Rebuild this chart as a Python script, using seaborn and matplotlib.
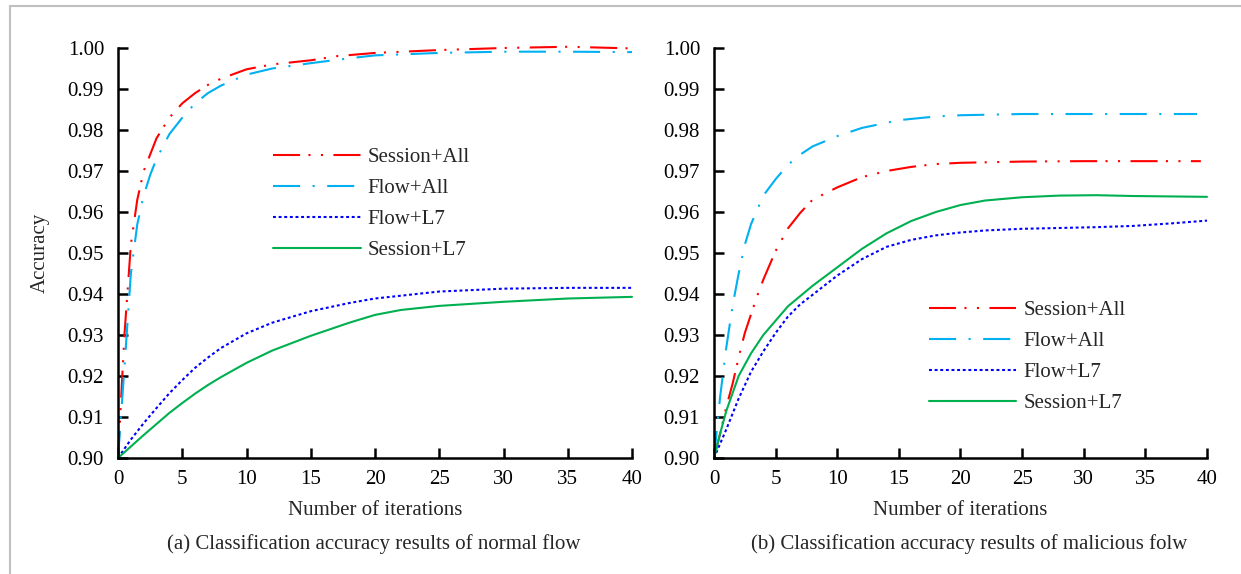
import matplotlib
matplotlib.use("Agg")
import matplotlib.pyplot as plt
import seaborn as sns
import numpy as np
from matplotlib.lines import Line2D

# ---------------- data ----------------
series_names = ["Session+All", "Flow+All", "Flow+L7", "Session+L7"]

# Panel (a): normal flow
a_sa_x = [0, 0.5, 1, 1.5, 2, 3, 4, 5, 6, 7, 8, 10, 12, 15, 17, 20, 25, 30, 35, 40]
a_sa_y = [0.900, 0.930, 0.952, 0.963, 0.970, 0.978, 0.983, 0.9865, 0.989, 0.991,
          0.9925, 0.9948, 0.996, 0.997, 0.998, 0.9988, 0.9995, 1.0000, 1.0003, 0.9999]
a_fa_x = [0, 0.5, 1, 1.5, 2, 2.5, 3, 4, 5, 6, 7, 8, 10, 12, 15, 18, 20, 25, 30, 35, 40]
a_fa_y = [0.900, 0.922, 0.945, 0.957, 0.964, 0.969, 0.973, 0.979, 0.9830, 0.9865,
          0.9890, 0.9908, 0.9935, 0.9950, 0.9963, 0.9975, 0.9982, 0.9988, 0.9991, 0.9991, 0.9990]
a_fl_x = [0, 1, 2, 3, 4, 5, 6, 7, 8, 10, 12, 15, 18, 20, 25, 30, 35, 40]
a_fl_y = [0.900, 0.9045, 0.9085, 0.9122, 0.9158, 0.9190, 0.9220, 0.9245, 0.9268, 0.9304,
          0.9330, 0.9358, 0.9378, 0.9389, 0.9406, 0.9413, 0.9415, 0.9415]
a_sl_x = [0, 1, 2, 3, 4, 5, 6, 7, 8, 10, 12, 15, 18, 20, 22, 25, 30, 35, 40]
a_sl_y = [0.900, 0.9028, 0.9056, 0.9083, 0.9110, 0.9134, 0.9157, 0.9178, 0.9197, 0.9232,
          0.9262, 0.9298, 0.9330, 0.9349, 0.9361, 0.9371, 0.9381, 0.9389, 0.9393]

# Panel (b): malicious flow
b_sa_x = [0, 0.5, 1, 1.5, 2, 2.5, 3, 3.5, 4, 5, 6, 7, 8, 10, 12, 14, 16, 18, 20, 25, 30, 35, 39.5]
b_sa_y = [0.900, 0.906, 0.9125, 0.918, 0.9245, 0.9305, 0.935, 0.9395, 0.9435, 0.9505,
          0.9560, 0.9598, 0.9630, 0.9660, 0.9685, 0.9700, 0.9710, 0.9717, 0.9720,
          0.9723, 0.9724, 0.9724, 0.9724]
b_fa_x = [0, 0.5, 1, 1.5, 2, 2.5, 3, 4, 5, 6, 7, 8, 10, 12, 15, 18, 20, 25, 30, 35, 39.2]
b_fa_y = [0.900, 0.915, 0.927, 0.937, 0.945, 0.952, 0.957, 0.964, 0.968, 0.9715,
          0.9740, 0.9760, 0.9785, 0.9805, 0.9824, 0.9833, 0.9836, 0.9839, 0.9839, 0.9839, 0.9839]
b_fl_x = [0, 1, 2, 3, 4, 5, 6, 7, 8, 10, 12, 14, 16, 18, 20, 22, 25, 28, 31, 34, 37, 40]
b_fl_y = [0.900, 0.907, 0.9145, 0.921, 0.926, 0.9305, 0.9345, 0.9375, 0.9398, 0.9445,
          0.9485, 0.9515, 0.9532, 0.9543, 0.9550, 0.9555, 0.9559, 0.9561, 0.9563,
          0.9566, 0.9572, 0.9579]
b_sl_x = [0, 0.5, 1, 2, 3, 4, 5, 6, 7, 8, 10, 12, 14, 16, 18, 20, 22, 25, 28, 31, 34, 37, 40]
b_sl_y = [0.900, 0.906, 0.9115, 0.920, 0.9255, 0.930, 0.9335, 0.937, 0.9395, 0.942,
          0.9465, 0.951, 0.9548, 0.9578, 0.960, 0.9617, 0.9628, 0.9636, 0.9640,
          0.9641, 0.9639, 0.9638, 0.9637]

x_ticks = [0, 5, 10, 15, 20, 25, 30, 35, 40]
y_ticks = [0.90, 0.91, 0.92, 0.93, 0.94, 0.95, 0.96, 0.97, 0.98, 0.99, 1.00]
x_label = "Number of iterations"
y_label = "Accuracy"
caption_a = "(a) Classification accuracy results of normal flow"
caption_b = "(b) Classification accuracy results of malicious folw"

# ---------------- style ----------------
sns.set_style("ticks")
plt.rcParams['font.family'] = ['Liberation Serif', 'DejaVu Serif']
FS = 15
plt.rcParams['font.size'] = FS

colors = {"Session+All": "#FF0000", "Flow+All": "#00B0F0",
          "Flow+L7": "#0000FF", "Session+L7": "#00B050"}
styles = {"Session+All": (0, (13, 4, 1, 5, 1, 5)),
          "Flow+All": (0, (13, 6, 1, 6)),
          "Flow+L7": (0, (1.4, 1.3)),
          "Session+L7": "-"}

W, H = 1241, 574
fig = plt.figure(figsize=(W / 100, H / 100), dpi=100)
fig.patch.set_facecolor("white")

def fx(px):
    return px / W

def fy(py):
    return 1 - py / H

ax_a = fig.add_axes([fx(118), fy(458), fx(632 - 118), (458 - 48) / H])
ax_b = fig.add_axes([fx(714), fy(458), fx(1207 - 714), (458 - 48) / H])

panels = [
    (ax_a, [(a_sa_x, a_sa_y), (a_fa_x, a_fa_y), (a_fl_x, a_fl_y), (a_sl_x, a_sl_y)],
     (0.3016, 0.757)),
    (ax_b, [(b_sa_x, b_sa_y), (b_fa_x, b_fa_y), (b_fl_x, b_fl_y), (b_sl_x, b_sl_y)],
     (0.436, 0.384)),
]

for ax, data, anchor in panels:
    for name, (xs, ys) in zip(series_names, data):
        sns.lineplot(x=xs, y=ys, ax=ax, color=colors[name], linestyle=styles[name],
                     linewidth=1.5, label=name, clip_on=False, sort=False)
    ax.set_xlim(0, 40)
    ax.set_ylim(0.90, 1.00)
    ax.set_xticks(x_ticks)
    ax.set_yticks(y_ticks)
    ax.set_xticklabels([str(t) for t in x_ticks])
    ax.set_yticklabels([f"{t:.2f}" for t in y_ticks])
    for s in ["top", "right"]:
        ax.spines[s].set_visible(False)
    for s in ["left", "bottom"]:
        ax.spines[s].set_linewidth(1.8)
        ax.spines[s].set_color("black")
    ax.tick_params(axis="both", direction="in", length=7, width=1.8,
                   colors="black", labelsize=FS)
    ax.tick_params(axis="x", pad=8.5)
    ax.tick_params(axis="y", pad=10)
    ax.set_xlabel(x_label, fontsize=FS, labelpad=9)
    ax.set_facecolor("white")
    ax.grid(False)
    leg = ax.legend(loc="upper left", bbox_to_anchor=anchor, frameon=False,
                    fontsize=FS, handlelength=4.2, handletextpad=0.35,
                    labelspacing=0.55, borderpad=0, borderaxespad=0)

ax_a.set_ylabel(y_label, fontsize=FS, labelpad=13)
ax_b.set_ylabel("")

fig.text(fx(374), fy(544), caption_a, ha="center", va="center", fontsize=FS)
fig.text(fx(969), fy(544), caption_b, ha="center", va="center", fontsize=FS)

# figure border (top and left)
fig.add_artist(Line2D([fx(10), 1], [fy(6), fy(6)], color="#C0C0C0", linewidth=1.5,
                      transform=fig.transFigure))
fig.add_artist(Line2D([fx(10), fx(10)], [0, fy(6)], color="#C0C0C0", linewidth=1.5,
                      transform=fig.transFigure))

fig.savefig("out.png", dpi=100, facecolor="white")
